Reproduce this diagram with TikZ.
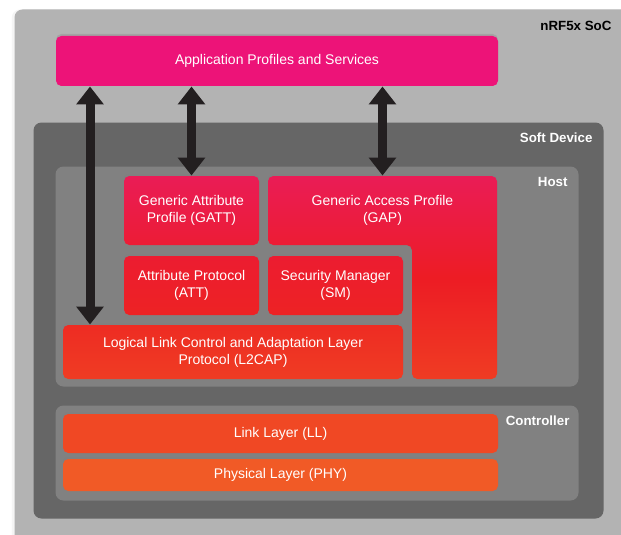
\documentclass[tikz,border=0pt]{standalone}
\usepackage{fontspec}
\setmainfont{Liberation Sans}
\usetikzlibrary{arrows.meta,shadows}

\definecolor{socgray}{RGB}{179,179,179}
\definecolor{softgray}{RGB}{102,102,102}
\definecolor{hostgray}{RGB}{129,129,129}
\definecolor{apppink}{RGB}{237,19,120}
\definecolor{redtop}{RGB}{234,28,86}
\definecolor{redmid}{RGB}{237,28,36}
\definecolor{redbot}{RGB}{239,60,35}
\definecolor{llorange}{RGB}{240,72,36}
\definecolor{phyorange}{RGB}{241,90,38}
\definecolor{arrowblack}{RGB}{35,31,32}

\tikzset{
	box size/.style 2 args={minimum width=#1*0.75pt, minimum height=#2*0.75pt},
	layer/.style={rounded corners=6pt, inner sep=0pt},
	soft shadow/.style={drop shadow={opacity=0.3, shadow xshift=0pt, shadow yshift=1.5pt}},
	blocktext/.style={rounded corners=4pt, inner sep=0pt, align=center, text=white,
		font=\fontsize{10.5}{12.8}\selectfont},
	block/.style={blocktext, soft shadow},
	tag/.style={anchor=east, inner sep=0pt, font=\fontsize{10}{12}\selectfont\bfseries},
	biarrow/.style={draw=arrowblack, line width=6.75pt,
		{Triangle[length=13.5pt,width=20pt]}-{Triangle[length=13.5pt,width=20pt]}}
}
\tikzset{every picture/.style={line width=0.75pt}}

\begin{document}
\begin{tikzpicture}[x=0.75pt,y=0.75pt,yscale=-1,xscale=1]
	\useasboundingbox (0,0) rectangle (621,535);
	\fill[white] (0,0) rectangle (621,535);

	%Rounded Rect: nRF5x SoC
	\node[layer, fill=socgray, box size={620}{540}, anchor=north west,
		drop shadow={opacity=0.08, shadow xshift=-2pt, shadow yshift=0pt}] (soc) at (14,9) {};
	\node[tag, text=black] (soclabel) at (612,26) {nRF5x SoC};

	%Rounded Rect: Application
	\node[block, fill=apppink, box size={442}{50}] (app) at (277,61) {Application Profiles and Services};

	%Rounded Rect: Soft Device
	\node[layer, fill=softgray, box size={570}{396}, anchor=north west] (soft) at (33,122) {};
	\node[tag, text=white] (softlabel) at (593,138) {Soft Device};

	%Rounded Rect: Host
	\node[layer, fill=hostgray, box size={523}{220}, anchor=north west] (host) at (55,166) {};
	\node[tag, text=white] (hostlabel) at (568,182) {Host};

	%Rounded Rect: Controller
	\node[layer, fill=hostgray, box size={523}{95}, anchor=north west] (ctrl) at (55,405) {};
	\node[tag, text=white] (ctrllabel) at (570,421) {Controller};

	%L-shape: GAP
	\path[rounded corners=4pt, top color=redtop, bottom color=redbot, middle color=redmid, soft shadow]
		(268,176) -- (497,176) -- (497,379) -- (412,379) -- (412,245) -- (268,245) -- cycle;
	\node[blocktext, box size={229}{69}] (gap) at (382.5,210.5) {Generic Access Profile\\(GAP)};

	%Rounded Rect: host blocks
	\node[block, top color=redtop, bottom color=redtop!35!redmid, box size={135}{69}] (gatt) at (191.5,210.5) {Generic Attribute\\Profile (GATT)};
	\node[block, top color=redtop!25!redmid, bottom color=redmid!80!redbot, box size={135}{59}] (att) at (191.5,285.5) {Attribute Protocol\\(ATT)};
	\node[block, top color=redtop!25!redmid, bottom color=redmid!80!redbot, box size={135}{59}] (sm) at (335.5,285.5) {Security Manager\\(SM)};
	\node[block, top color=redmid!50!redbot, bottom color=redbot, box size={340}{54}] (l2cap) at (233,352) {Logical Link Control and Adaptation Layer\\Protocol (L2CAP)};

	%Rounded Rect: controller blocks
	\node[block, fill=llorange, box size={435}{39}] (ll) at (280.5,433.5) {Link Layer (LL)};
	\node[block, fill=phyorange, box size={435}{32}] (phy) at (280.5,475) {Physical Layer (PHY)};

	%Arrows
	\draw[biarrow] (app.south -| 90,0) -- (l2cap.north -| 90,0);
	\draw[biarrow] (app.south -| gatt.center) -- (gatt.north);
	\draw[biarrow] (app.south -| gap.center) -- (gap.north);

\end{tikzpicture}
\end{document}
